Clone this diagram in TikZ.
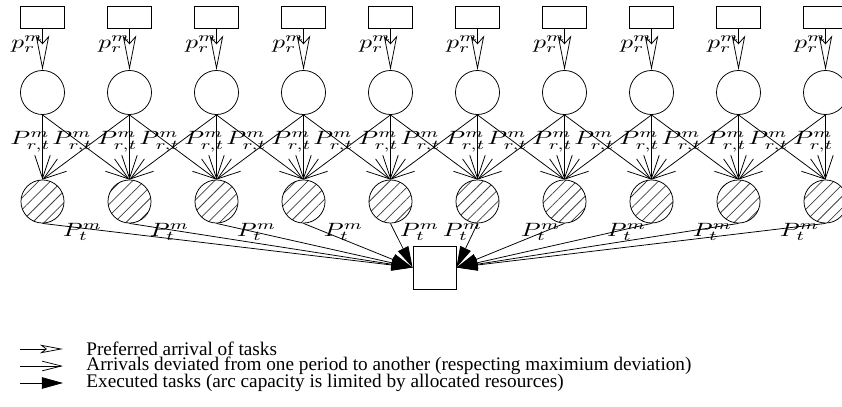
\documentclass[tikz,border=0pt]{standalone}
\usepackage{graphicx}
\usepackage{fontspec}
\setmainfont{Liberation Serif}
\usetikzlibrary{arrows.meta,patterns.meta}
\newcommand{\flowlabel}[1]{\scalebox{1.32}[1]{#1}}
\tikzstyle{period} = [rectangle, draw=black, minimum width=22.9pt, minimum height=11.4pt, inner sep=0pt]
\tikzstyle{arrival} = [circle, draw=black, minimum size=22.9pt, inner sep=0pt]
\tikzstyle{execution} = [circle, draw=black, minimum size=22.4pt, inner sep=0pt, pattern={Lines[angle=45,distance=4.3pt,line width=0.4pt]}, pattern color=black!75]
\tikzstyle{sinkbox} = [rectangle, draw=black, minimum size=22.4pt, inner sep=0pt]
\tikzstyle{flow} = [inner sep=0pt, font=\fontsize{10pt}{12pt}\selectfont]
\tikzstyle{preferred} = [-{Stealth[open,length=18pt,width=7pt,inset=4pt]}]
\tikzstyle{deviated} = [-{Straight Barb[length=12pt,width=8pt]}]
\tikzstyle{executed} = [-{Triangle[length=11pt,width=6pt]}]
\tikzstyle{preferred legend} = [-{Stealth[open,length=12pt,width=4.5pt,inset=3pt]}]
\tikzstyle{deviated legend} = [-{Straight Barb[length=10pt,width=5pt]}]

\begin{document}
\begin{tikzpicture}[x=0.52pt, y=-0.52pt]
 \clip (0,0) rectangle (842,407);

 % periods: source, arrival node and execution node
 \foreach \i in {0,...,9} {
   \node (src\i) [period] at (42.5+87*\i,17) {};
   \node (arr\i) [arrival] at (42.5+87*\i,92.5) {};
   \node (exe\i) [execution] at (42.5+87*\i,201.5) {};
   \draw[preferred] (src\i) -- (arr\i);
   \draw[deviated] (arr\i.south) -- (exe\i.north);
   \node (pr\i) [flow] at (27.5+87*\i,44) {\flowlabel{$p^m_r$}};
   \node (prt\i) [flow] at (30.5+87*\i,142) {\flowlabel{$P^m_{r,t}$}};
 }
 \foreach \i [evaluate=\i as \j using int(\i+1)] in {0,...,8} {
   \draw[deviated] (arr\i.south) -- (exe\j.north);
   \draw[deviated] (arr\j.south) -- (exe\i.north);
   \node (pru\i) [flow] at (72.5+87*\i,142) {\flowlabel{$P^m_{r,t}$}};
 }

 \node (sink) [sinkbox] at (434.5,267.5) {};

 % executed tasks
 \foreach \i/\dx in {0/40,1/40,2/40,3/40,4/29} {
   \draw[executed] (exe\i.south) -- (sink.west);
   \node (pt\i) [flow] at (42.5+87*\i+\dx,232) {\flowlabel{$P^m_t$}};
 }
 \foreach \i/\dx in {5/-15,6/-24,7/-25,8/-26,9/-26} {
   \draw[executed] (exe\i.south) -- (sink.east);
   \node (pt\i) [flow] at (42.5+87*\i+\dx,232) {\flowlabel{$P^m_t$}};
 }

 % legend
 \coordinate (l1) at (20,349);
 \coordinate (l2) at (20,366);
 \coordinate (l3) at (20,383);
 \draw[preferred legend] (l1) -- ++(43,0) node (t1) [anchor=west, inner sep=0pt, xshift=23*0.52pt] {Preferred arrival of tasks};
 \draw[deviated legend] (l2) -- ++(43,0) node (t2) [anchor=west, inner sep=0pt, xshift=23*0.52pt] {Arrivals deviated from one period to another (respecting maximium deviation)};
 \draw[executed] (l3) -- ++(43,0) node (t3) [anchor=west, inner sep=0pt, xshift=23*0.52pt] {Executed tasks (arc capacity is limited by allocated resources)};
\end{tikzpicture}
\end{document}
